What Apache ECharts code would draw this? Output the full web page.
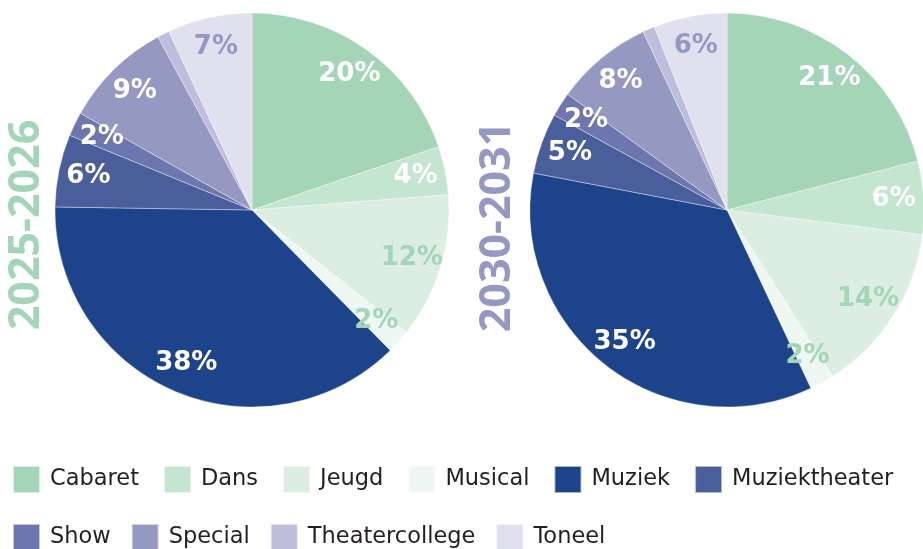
<!DOCTYPE html>
<html><head><meta charset="utf-8">
<script src="https://cdn.jsdelivr.net/npm/echarts@6/dist/echarts.min.js"></script>
<style>html,body{margin:0;padding:0;background:#fff}#c{width:923px;height:549px}</style>
</head><body><div id="c"></div>
<script>
const categories = ['Cabaret','Dans','Jeugd','Musical','Muziek','Muziektheater','Show','Special','Theatercollege','Toneel'];
const values2025 = [20, 4, 12, 2, 38, 6, 2, 9, 1, 7];
const values2030 = [21, 6, 14, 2, 35, 5, 2, 8, 1, 6];
const periods = ['2025-2026', '2030-2031'];
const legendRow1 = ['Cabaret','Dans','Jeugd','Musical','Muziek','Muziektheater'];
const legendRow2 = ['Show','Special','Theatercollege','Toneel'];

const colors = ['#a4d5b6','#c4e5d0','#dbeee1','#eef7f2','#1d448a','#4a5e9b','#6e77ad','#9599c2','#bcbedc','#e0e0ee'];
const labelColors = ['#ffffff','#ffffff','#a4d5b6','#a4d5b6','#ffffff','#ffffff','#ffffff','#ffffff','#ffffff','#9599c2'];

function mkData(vals, overlay) {
  return categories.map((n, i) => ({
    name: n, value: vals[i],
    itemStyle: overlay ? { color: 'rgba(0,0,0,0)', borderWidth: 0 } : { color: colors[i] },
    label: { color: labelColors[i] }
  }));
}
const centers = [[252, 210], [727, 210]];
const R = 197;
const series = [];
[values2025, values2030].forEach((vals, k) => {
  series.push({
    type: 'pie', center: centers[k], radius: [0, R], startAngle: 90, clockwise: true,
    silent: true, animation: false, avoidLabelOverlap: false,
    itemStyle: { borderColor: 'rgba(255,255,255,0.6)', borderWidth: 0.6 },
    label: { show: false }, labelLine: { show: false },
    data: mkData(vals, false)
  });
});
[values2025, values2030].forEach((vals, k) => {
  series.push({
    type: 'pie', center: centers[k], radius: [131, R], startAngle: 90, clockwise: true,
    silent: true, animation: false, avoidLabelOverlap: false, legendHoverLink: false,
    label: { show: true, position: 'inside', formatter: '{c}%', fontFamily: '"DejaVu Sans"', fontWeight: 'bold', fontSize: 26 },
    labelLine: { show: false },
    data: mkData(vals, true)
  });
});

const legendCommon = {
  left: 12, padding: 0, orient: 'horizontal', icon: 'rect', itemWidth: 27, itemHeight: 27, itemGap: 24,
  selectedMode: false,
  textStyle: { fontFamily: '"DejaVu Sans"', fontSize: 22.5, color: '#231f20', padding: [0, 0, 0, 5] }
};

const chart = echarts.init(document.getElementById('c'), null, { renderer: 'canvas' });
chart.setOption({
  animation: false,
  backgroundColor: '#ffffff',
  legend: [
    Object.assign({}, legendCommon, { top: 465, data: legendRow1 }),
    Object.assign({}, legendCommon, { top: 523, itemGap: 20, data: legendRow2 })
  ],
  graphic: [
    { type: 'text', x: 27, y: 225, rotation: Math.PI / 2,
      style: { text: periods[0], fill: '#a4d5b6', font: 'bold 43px "Open Sans"', align: 'center', verticalAlign: 'middle' } },
    { type: 'text', x: 498, y: 227, rotation: Math.PI / 2,
      style: { text: periods[1], fill: '#9599c2', font: 'bold 43px "Open Sans"', align: 'center', verticalAlign: 'middle' } }
  ],
  series: series
});
</script>
</body></html>
